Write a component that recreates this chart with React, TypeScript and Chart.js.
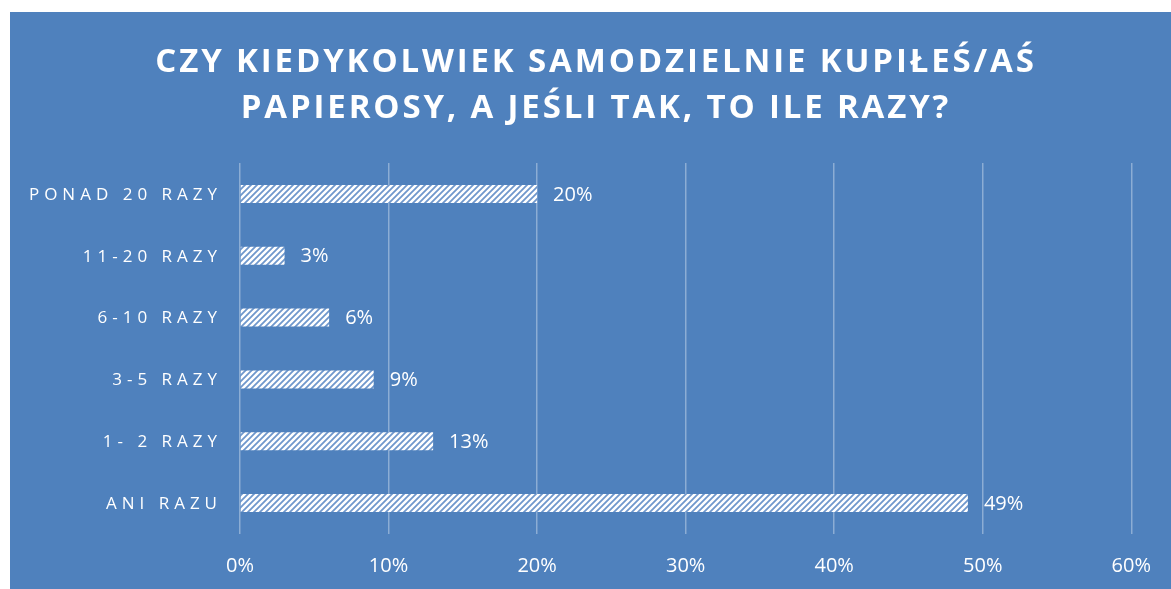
import React, { useEffect, useRef } from "react";
import { Chart, registerables } from "chart.js";

Chart.register(...registerables);

const titleLines = ["CZY KIEDYKOLWIEK SAMODZIELNIE KUPIŁEŚ/AŚ", "PAPIEROSY, A JEŚLI TAK, TO ILE RAZY?"];
const categories = ["PONAD 20 RAZY", "11-20 RAZY", "6-10 RAZY", "3-5 RAZY", "1- 2 RAZY", "ANI RAZU"];
const values = [20, 3, 6, 9, 13, 49];
const xTicks = [0, 10, 20, 30, 40, 50, 60];

const BG = "#4F81BD";
const FONT = "'Open Sans', sans-serif";

function makePattern(): CanvasPattern | string {
  const s = 6;
  const c = document.createElement("canvas");
  c.width = s;
  c.height = s;
  const g = c.getContext("2d");
  if (!g) return "#ffffff";
  g.fillStyle = "#ffffff";
  g.fillRect(0, 0, s, s);
  g.strokeStyle = "#6f97cc";
  g.lineWidth = 1.8;
  g.beginPath();
  for (let k = -1; k <= 1; k++) {
    g.moveTo(k * s - 1, s + 1);
    g.lineTo(k * s + s + 1, -1);
  }
  g.stroke();
  const p = g.createPattern(c, "repeat");
  return p || "#ffffff";
}

export default function App() {
  const ref = useRef<HTMLCanvasElement | null>(null);

  useEffect(() => {
    if (!ref.current) return;
    const pattern = makePattern();

    const overlay = {
      id: "overlay",
      beforeDraw(chart: any) {
        const ctx = chart.ctx;
        ctx.save();
        ctx.fillStyle = BG;
        ctx.fillRect(0, 0, chart.width, chart.height);
        ctx.restore();
      },
      afterDraw(chart: any) {
        const ctx = chart.ctx as CanvasRenderingContext2D & { letterSpacing?: string };
        ctx.save();
        // title
        ctx.fillStyle = "#ffffff";
        ctx.textAlign = "center";
        ctx.textBaseline = "alphabetic";
        ctx.font = `bold 33px ${FONT}`;
        ctx.letterSpacing = "2.85px";
        ctx.fillText(titleLines[0], 586, 60);
        ctx.fillText(titleLines[1], 586, 106);
        // y labels
        const y = chart.scales.y;
        ctx.font = `17px ${FONT}`;
        ctx.letterSpacing = "5px";
        ctx.textAlign = "right";
        ctx.textBaseline = "middle";
        categories.forEach((c, i) => {
          ctx.fillText(c, 212, y.getPixelForValue(i) + 1);
        });
        // data labels
        ctx.letterSpacing = "0px";
        ctx.font = `20px ${FONT}`;
        ctx.textAlign = "left";
        const meta = chart.getDatasetMeta(0);
        meta.data.forEach((bar: any, i: number) => {
          ctx.fillText(values[i] + "%", bar.x + 16, bar.y + 1);
        });
        ctx.restore();
      },
    };

    const chart = new Chart(ref.current, {
      type: "bar",
      data: {
        labels: categories,
        datasets: [
          {
            data: values,
            backgroundColor: pattern as any,
            borderWidth: 0,
            barPercentage: 0.58,
            categoryPercentage: 0.5,
          },
        ],
      },
      options: {
        indexAxis: "y",
        animation: false,
        responsive: false,
        devicePixelRatio: 1,
        layout: { padding: { top: 151, right: 16, bottom: -9, left: 0 } },
        plugins: {
          legend: { display: false },
          title: { display: false },
          tooltip: { enabled: false },
        },
        scales: {
          x: {
            min: 0,
            max: 60,
            afterBuildTicks(scale: any) {
              scale.ticks = xTicks.map((v) => ({ value: v }));
            },
            ticks: {
              color: "#ffffff",
              font: { family: FONT, size: 20 },
              padding: 20,
              callback: (v: any) => v + "%",
            },
            grid: {
              color: "rgba(255,255,255,0.35)",
              lineWidth: 1.5,
              drawTicks: false,
            },
            border: { display: false },
          },
          y: {
            ticks: { display: false },
            grid: { display: false },
            border: { display: false },
            afterFit(scale: any) {
              scale.width = 230;
            },
          },
        },
      },
      plugins: [overlay],
    });

    return () => chart.destroy();
  }, []);

  return (
    <div style={{ position: "fixed", left: 10, top: 12, width: 1161, height: 577 }}>
      <canvas ref={ref} width={1161} height={577} style={{ display: "block", width: 1161, height: 577 }} />
    </div>
  );
}
